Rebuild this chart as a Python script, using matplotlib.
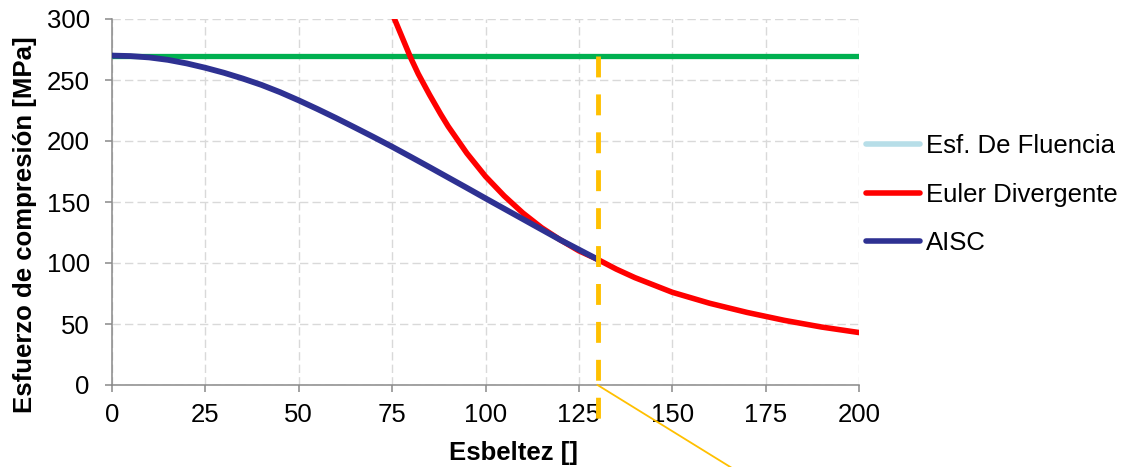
import matplotlib
matplotlib.use("Agg")
import matplotlib.pyplot as plt
from matplotlib.lines import Line2D

plt.rcParams['font.family'] = ['Liberation Sans', 'DejaVu Sans']

# Esbeltez vs esfuerzo (MPa)
fluencia_x = [0, 200]
fluencia_y = [270, 270]

euler_x = [75.5, 77, 78.5, 80, 82, 85, 88, 90, 95, 100, 105, 110, 115, 120, 125,
           130, 135, 140, 145, 150, 160, 170, 180, 190, 200]
euler_y = [301, 290, 279, 268, 255, 238, 222, 212, 190, 171, 155, 141, 129, 119, 110,
           103, 95, 88, 82, 76, 67, 59.5, 53, 47.5, 43]

aisc_x = [0, 5, 10, 15, 20, 25, 30, 35, 40, 45, 50, 55, 60, 65, 70, 75, 80,
          85, 90, 95, 100, 105, 110, 115, 120, 125, 130]
aisc_y = [270, 269.6, 268.5, 266.5, 263.6, 260, 255.9, 251.2, 246, 240, 233.3,
          226.2, 218.8, 211.1, 203.3, 195.3, 187, 178.6, 170.1, 161.6, 153, 144.5,
          136, 127.5, 119, 111, 103]

# limite de esbeltez (linea discontinua) y linea de llamada
limite_x = [130, 130]
limite_y = [270, -28]
llamada_x = [130, 185]
llamada_y = [0, -104]

fs = 18.5

fig = plt.figure(figsize=(11.26, 4.67), dpi=100)
ax = fig.add_axes([112 / 1126, 82 / 467, 747 / 1126, 366 / 467])

ax.plot(fluencia_x, fluencia_y, color="#00B050", lw=3.8, solid_capstyle="butt", zorder=3)
ax.plot(euler_x, euler_y, color="#FF0000", lw=4.0, solid_capstyle="round", zorder=4)
ax.plot(aisc_x, aisc_y, color="#2E3192", lw=4.2, solid_capstyle="round", zorder=5)
ax.plot(limite_x, limite_y, color="#FFC000", lw=3.5, linestyle=(0, (4.3, 3.5)),
        clip_on=False, zorder=6)
ax.plot(llamada_x, llamada_y, color="#FFC000", lw=1.3, clip_on=False, zorder=6)

ax.set_xlim(0, 200)
ax.set_ylim(0, 300)
ax.set_xticks(range(0, 201, 25))
ax.set_yticks(range(0, 301, 50))

ax.grid(True, color="#D9D9D9", lw=1.0, linestyle=(0, (6, 3)))
ax.set_axisbelow(True)
for s in ["top", "right"]:
    ax.spines[s].set_visible(False)
for s in ["left", "bottom"]:
    ax.spines[s].set_color("#898989")
    ax.spines[s].set_linewidth(1.1)
ax.tick_params(colors="#898989", labelcolor="black", labelsize=fs,
               length=5, width=1.1, direction="out")
ax.tick_params(axis="y", pad=11)
ax.tick_params(axis="x", pad=8)

ax.set_xlabel("Esbeltez []", fontsize=fs, fontweight="bold")
ax.xaxis.set_label_coords(0.5375, -0.153)
ax.set_ylabel("Esfuerzo de compresión [MPa]", fontsize=fs, fontweight="bold")
ax.yaxis.set_label_coords(-0.1, 0.437)

handles = [Line2D([], [], color="#B7DEE8", lw=4.0, solid_capstyle="round"),
           Line2D([], [], color="#FF0000", lw=4.0, solid_capstyle="round"),
           Line2D([], [], color="#2E3192", lw=4.0, solid_capstyle="round")]
labels = ["Esf. De Fluencia", "Euler Divergente", "AISC"]
fig.legend(handles, labels, loc="center left", bbox_to_anchor=(866 / 1126, 272.5 / 467),
           frameon=False, fontsize=fs, handlelength=2.1, handletextpad=0.25,
           labelspacing=0.95, borderpad=0, borderaxespad=0)

fig.savefig("out.png", dpi=100)
